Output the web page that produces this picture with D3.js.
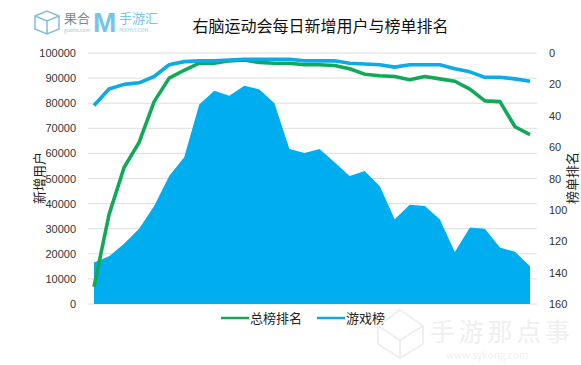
<!DOCTYPE html>
<html lang="zh">
<head>
  <meta charset="UTF-8">
  <title>右脑运动会每日新增用户与榜单排名</title>
  <style>
    html, body { margin: 0; padding: 0; background: #fff; }
    svg { display: block; }
    text { font-family: "Noto Sans CJK SC", "Liberation Sans", sans-serif; }
    .tick text { font-family: "Liberation Sans", Arial, sans-serif; font-size: 11px; fill: #333; }
    .axis path, .axis line { display: none; }
    .grid line { stroke: #dedede; stroke-width: 1px; }
    .rank { fill: none; stroke-width: 3.6px; stroke-linejoin: round; stroke-linecap: butt; }
  </style>
</head>
<body>
  <script src="https://cdn.jsdelivr.net/npm/d3@7/dist/d3.min.js"></script>
  <script>
    const title = '右脑运动会每日新增用户与榜单排名';
    const leftTitle = '新增用户';
    const rightTitle = '榜单排名';
    const legendNames = ['总榜排名', '游戏榜'];
    const days = d3.range(1, 31);

    // 每日新增用户 (面积)
    const newUsers = [16500, 19000, 24000, 30000, 39000, 51000, 58500, 79500, 85000, 83000,
      87000, 85500, 80000, 61800, 60200, 61800, 56500, 51000, 53000, 47000,
      33800, 39500, 39000, 33800, 20700, 30500, 30000, 22500, 20800, 15000];
    // 总榜排名
    const totalRank = [149, 103, 73, 57, 31, 16, 11, 6.5, 6.5, 5,
      4.5, 6, 6.5, 6.5, 7.5, 7.5, 8, 10, 13.5, 14.5,
      15, 17, 15, 16.5, 18, 23, 30.5, 31, 47, 52];
    // 游戏榜
    const gameRank = [33.5, 23, 20, 19, 15, 7.5, 5.5, 5, 5, 4.5,
      4, 4, 4, 4, 5, 5, 5, 6.5, 7, 7.5,
      9, 7.5, 7.5, 7.5, 10, 12, 15.5, 15.5, 16.5, 18];

    const width = 581, height = 365;
    const x = d3.scalePoint().domain(days).range([94, 530]);
    const yUsers = d3.scaleLinear().domain([0, 100000]).range([304, 53]);
    const yRank = d3.scaleLinear().domain([0, 160]).range([53, 304]);

    const svg = d3.select('body').append('svg').attr('width', width).attr('height', height);

    svg.append('g').attr('class', 'grid').selectAll('line')
      .data(yUsers.ticks(10)).enter().append('line')
      .attr('x1', 88).attr('x2', 537)
      .attr('y1', d => yUsers(d)).attr('y2', d => yUsers(d));

    const area = d3.area().x((d, i) => x(days[i])).y0(yUsers(0)).y1(d => yUsers(d));
    svg.append('path').datum(newUsers).attr('fill', '#00aeef').attr('d', area);

    const line = d3.line().x((d, i) => x(days[i])).y(d => yRank(d));
    svg.append('path').datum(totalRank).attr('class', 'rank').attr('stroke', '#0fa958').attr('d', line);
    svg.append('path').datum(gameRank).attr('class', 'rank').attr('stroke', '#0caae6').attr('d', line);

    svg.append('g').attr('class', 'axis').attr('transform', 'translate(76,0)')
      .call(d3.axisLeft(yUsers).ticks(10).tickSize(0).tickPadding(0).tickFormat(d3.format('d')));
    svg.append('g').attr('class', 'axis').attr('transform', 'translate(549,0)')
      .call(d3.axisRight(yRank).ticks(8).tickSize(0).tickPadding(0));

    svg.append('text').attr('x', 320.5).attr('y', 32).attr('text-anchor', 'middle')
      .attr('font-size', 16).attr('fill', '#111').text(title);
    svg.append('text').attr('transform', 'translate(44,178) rotate(-90)').attr('text-anchor', 'middle')
      .attr('font-size', 13).attr('fill', '#222').text(leftTitle);
    svg.append('text').attr('transform', 'translate(577,178) rotate(-90)').attr('text-anchor', 'middle')
      .attr('font-size', 13).attr('fill', '#222').text(rightTitle);

    // 图例
    const legendX = d3.scaleOrdinal().domain(legendNames).range([221, 317]);
    const legendColor = d3.scaleOrdinal().domain(legendNames).range(['#0fa958', '#0caae6']);
    const legend = svg.append('g').selectAll('g').data(legendNames).enter().append('g')
      .attr('transform', d => `translate(${legendX(d)},318)`);
    legend.append('line').attr('x2', 28).attr('stroke', d => legendColor(d)).attr('stroke-width', 2.5);
    legend.append('text').attr('x', 29).attr('y', 5).attr('font-size', 13).attr('fill', '#222').text(d => d);

    // logo
    const logo = svg.append('g');
    logo.append('path').attr('d', 'M35 16L47 11L59 16L59 29L47 34L35 29Z M35 16L47 21L59 16 M47 21L47 34')
      .attr('fill', 'none').attr('stroke', '#86bcd8').attr('stroke-width', 1.5);
    logo.append('text').attr('x', 64).attr('y', 23).attr('font-size', 13).attr('fill', '#7a8a92').text('果合');
    logo.append('text').attr('x', 64).attr('y', 32).attr('font-size', 5).attr('fill', '#b5c4cc').text('guohe.com');
    logo.append('text').attr('x', 93).attr('y', 32).attr('font-size', 28).attr('font-weight', 700)
      .attr('fill', '#74c6e8').style('font-family', '"Liberation Sans", sans-serif').text('M');
    logo.append('text').attr('x', 119).attr('y', 23).attr('font-size', 13).attr('fill', '#74c6e8').text('手游汇');
    logo.append('text').attr('x', 119).attr('y', 32).attr('font-size', 5).attr('fill', '#93cfe6').text('MIXHUI.COM');

    // 水印
    svg.append('path').attr('d', 'M378 326L400 310L423 326L423 344L400 358L378 344Z M378 326L400 340L423 326 M400 340L400 358')
      .attr('fill', 'none').attr('stroke', '#efefef').attr('stroke-width', 2);
    svg.append('text').attr('x', 430).attr('y', 341).attr('font-size', 25).attr('fill', '#efefef')
      .attr('textLength', 140).text('手游那点事');
    svg.append('text').attr('x', 446).attr('y', 359).attr('font-size', 10).attr('fill', '#f0f0f0').text('www.sykong.com');
  </script>
</body>
</html>
